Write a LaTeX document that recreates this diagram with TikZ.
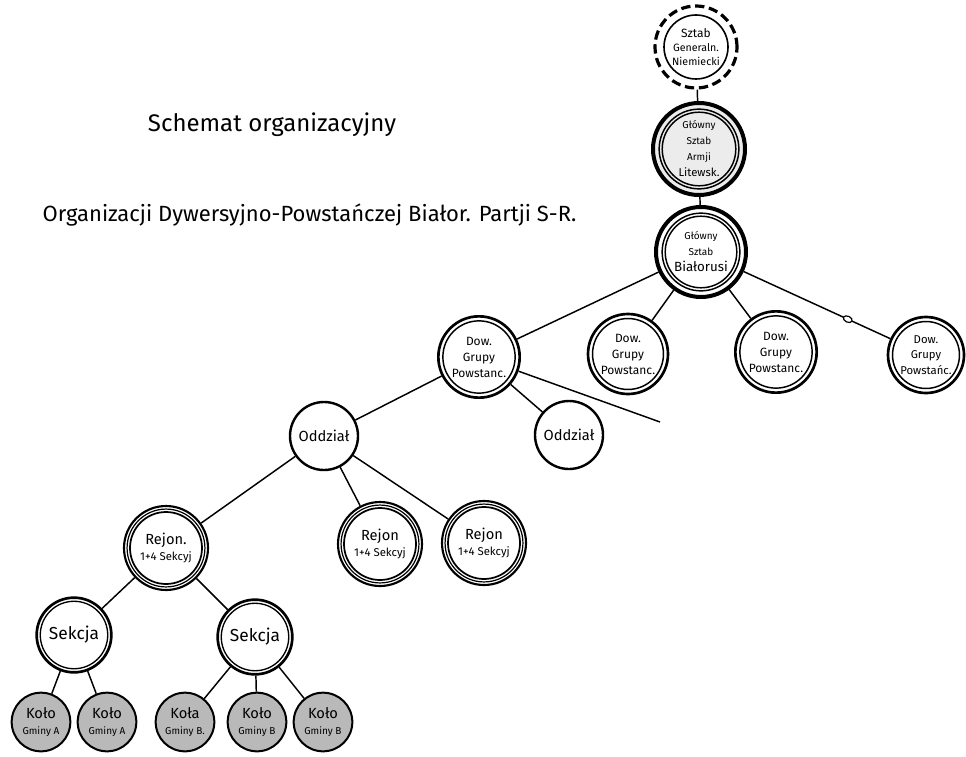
\documentclass[tikz,border=0pt]{standalone}
\usepackage{fontspec}
\setmainfont{Fira Sans}
\usetikzlibrary{shapes.geometric}
\begin{document}
\begin{tikzpicture}[x=0.75pt,y=-0.75pt,
  base/.style={circle, draw, inner sep=0pt, align=center, text=black},
  conn/.style={line width=1.1pt},
  sztab/.style={base, dash pattern=on 7pt off 3.5pt, line width=2.4pt, minimum size=61.5pt,
     font=\fontsize{8}{10.5}\selectfont,
     path picture={\draw[line width=1.2pt,solid] (path picture bounding box.center) circle (24pt);}},
  glowny/.style={base, line width=3pt, minimum size=#1,
     path picture={\draw[line width=1.1pt] (path picture bounding box.center) circle (0.5*#1-4.6pt)
                   (path picture bounding box.center) circle (0.5*#1-6.9pt);}},
  dow/.style={base, line width=2pt, minimum size=#1, font=\fontsize{9}{12}\selectfont,
     path picture={\draw[line width=1.1pt] (path picture bounding box.center) circle (0.5*#1-3.4pt);}},
  oddz/.style={base, line width=1.8pt, minimum size=51pt, font=\fontsize{11}{13}\selectfont},
  rejon/.style={base, line width=1.6pt, minimum size=63pt,
     path picture={\draw[line width=0.9pt] (path picture bounding box.center) circle (29.2pt);
                   \draw[line width=1.3pt] (path picture bounding box.center) circle (27pt);}},
  sekcja/.style={base, line width=2pt, minimum size=56pt, font=\fontsize{13}{15}\selectfont,
     path picture={\draw[line width=1pt] (path picture bounding box.center) circle (25.3pt);}},
  kolo/.style={base, line width=1.5pt, minimum size=44pt, fill=gray!55},
  markoval/.style={ellipse, draw, fill=white, line width=0.9pt, inner sep=0pt, minimum width=7pt, minimum height=4.5pt},
  title/.style={font=\fontsize{18}{20}\selectfont},
  subtitle/.style={font=\fontsize{16.5}{18}\selectfont, anchor=west}
]
\useasboundingbox (0,0) rectangle (966,756);
\fill[white] (0,0) rectangle (966,756);

% titles
\node[title] (t1) at (272,125) {Schemat organizacyjny};
\node[subtitle] (t2) at (38,215) {Organizacji Dywersyjno-Powstańczej Białor. Partji S-R.};

% top chain
\node[sztab] (sg) at (696,47) {\fontsize{9}{11}\selectfont Sztab\\Generaln.\\Niemiecki};
\node[glowny=69pt, fill=gray!15] (gsa) at (699,149)
  {\fontsize{7.5}{9}\selectfont Główny\\\fontsize{7.5}{9}\selectfont Sztab\\\fontsize{7.5}{9}\selectfont Armji\\\fontsize{8.5}{10}\selectfont Litewsk.};
\node[glowny=67.5pt] (gsb) at (701,252)
  {\fontsize{7.5}{9}\selectfont Główny\\\fontsize{7.5}{9}\selectfont Sztab\\\fontsize{10}{12}\selectfont Białorusi};

% Dow. Grupy
\node[dow=61pt] (d1) at (479,357) {Dow.\\Grupy\\Powstanc.};
\node[dow=60pt] (d2) at (628,354) {Dow.\\Grupy\\Powstanc.};
\node[dow=61pt] (d3) at (776,352) {Dow.\\Grupy\\Powstanc.};
\node[dow=57pt, font=\fontsize{8.5}{11.5}\selectfont] (d4) at (926,355) {Dow.\\Grupy\\Powstańc.};
\coordinate (off) at (660,422);

% Oddzial
\node[oddz] (o1) at (324,436) {Oddział};
\node[oddz] (o2) at (569,435) {Oddział};

% Rejon
\node[rejon] (r1) at (166,548) {\fontsize{11}{14}\selectfont Rejon.\\\fontsize{8.5}{12}\selectfont 1+4 Sekcyj};
\node[rejon] (r2) at (380,544) {\fontsize{11}{14}\selectfont Rejon\\\fontsize{8.5}{12}\selectfont 1+4 Sekcyj};
\node[rejon] (r3) at (484,543) {\fontsize{11}{14}\selectfont Rejon\\\fontsize{8.5}{12}\selectfont 1+4 Sekcyj};

% Sekcja
\node[sekcja] (s1) at (74,635) {Sekcja};
\node[sekcja] (s2) at (255,637) {Sekcja};

% Kolo
\node[kolo] (k1) at (41,722) {\fontsize{11}{13}\selectfont Koło\\\fontsize{7.5}{10}\selectfont Gminy A};
\node[kolo] (k2) at (107,722) {\fontsize{11}{13}\selectfont Koło\\\fontsize{7.5}{10}\selectfont Gminy A};
\node[kolo] (k3) at (185,722) {\fontsize{11}{13}\selectfont Koła\\\fontsize{7.5}{10}\selectfont Gminy B.};
\node[kolo] (k4) at (257,722) {\fontsize{11}{13}\selectfont Koło\\\fontsize{7.5}{10}\selectfont Gminy B};
\node[kolo] (k5) at (323,722) {\fontsize{11}{13}\selectfont Koło\\\fontsize{7.5}{10}\selectfont Gminy B};

% connectors
\draw[conn] (sg) -- (gsa);
\draw[conn] (gsa) -- (gsb);
\draw[conn] (gsb) -- (d1);
\draw[conn] (gsb) -- (d2);
\draw[conn] (gsb) -- (d3);
\draw[conn] (gsb) -- node[markoval, pos=0.71, sloped] (mk) {} (d4);
\draw[conn] (d1) -- (o1);
\draw[conn] (d1) -- (o2);
\draw[conn] (d1) -- (off);
\draw[conn] (o1) -- (r1);
\draw[conn] (o1) -- (r2);
\draw[conn] (o1) -- (r3);
\draw[conn] (r1) -- (s1);
\draw[conn] (r1) -- (s2);
\draw[conn] (s1) -- (k1);
\draw[conn] (s1) -- (k2);
\draw[conn] (s2) -- (k3);
\draw[conn] (s2) -- (k4);
\draw[conn] (s2) -- (k5);
\end{tikzpicture}
\end{document}
